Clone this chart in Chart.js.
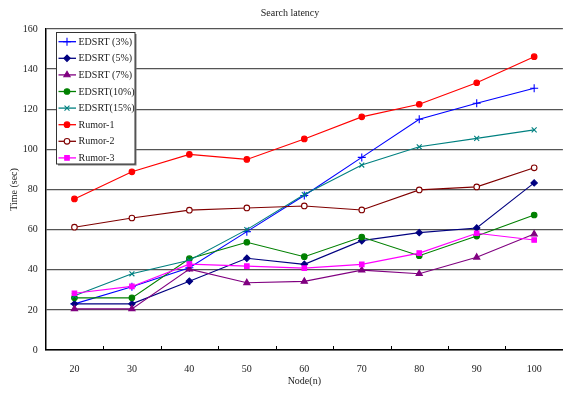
<!DOCTYPE html>
<html>
<head>
<meta charset="utf-8">
<title>Search latency</title>
<script src="https://cdn.jsdelivr.net/npm/chart.js@4/dist/chart.umd.min.js"></script>
<style>
  html, body { margin: 0; padding: 0; overflow: hidden; background: #fff; }
  canvas { display: block; }
</style>
</head>
<body>
<canvas id="c" width="568" height="394"></canvas>
<script>
// Number of nodes on the x axis
const nodes = [20, 30, 40, 50, 60, 70, 80, 90, 100];

// Search latency (sec) per series
const edsrt3  = [23, 31.5, 41, 59, 77, 96, 115, 123, 130.5];
const edsrt5  = [23, 23, 34.3, 45.7, 42.7, 54.5, 58.5, 60.8, 83.3];
const edsrt7  = [20.5, 20.5, 40.3, 33.5, 34.2, 39.8, 38, 46.2, 57.8];
const edsrt10 = [26, 26, 45.5, 53.7, 46.5, 56.3, 47, 56.8, 67.3];
const edsrt15 = [27, 38, 44.7, 60, 77.5, 92.2, 101.3, 105.5, 109.7];
const rumor1  = [75.3, 88.8, 97.5, 95, 105.2, 116.2, 122.5, 133.2, 146.2];
const rumor2  = [61.2, 65.8, 69.7, 70.8, 71.8, 69.8, 79.8, 81.3, 90.8];
const rumor3  = [28.3, 31.7, 42.8, 41.8, 40.8, 42.7, 48.3, 58.2, 54.8];

// Y axis ticks
const yTicks = [0, 20, 40, 60, 80, 100, 120, 140, 160];

const FONT = "'Liberation Serif', 'Times New Roman', serif";
const TEXT = '#222';

const series = [
  { label: 'EDSRT (3%)',  data: edsrt3,  color: '#0000FF', style: 'cross',    radius: 4 },
  { label: 'EDSRT (5%)',  data: edsrt5,  color: '#000080', style: 'rectRot',  radius: 3.2 },
  { label: 'EDSRT (7%)',  data: edsrt7,  color: '#800080', style: 'triangle', radius: 3.6 },
  { label: 'EDSRT(10%)',  data: edsrt10, color: '#008000', style: 'circle',   radius: 2.8 },
  { label: 'EDSRT(15%)',  data: edsrt15, color: '#008080', style: 'crossRot', radius: 3.5 },
  { label: 'Rumor-1',     data: rumor1,  color: '#FF0000', style: 'circle',   radius: 2.8 },
  { label: 'Rumor-2',     data: rumor2,  color: '#800000', style: 'circle',   radius: 2.8, hollow: true },
  { label: 'Rumor-3',     data: rumor3,  color: '#FF00FF', style: 'rect',     radius: 3.2 }
];

const datasets = series.map((s, i) => ({
  label: s.label,
  data: s.data,
  borderColor: s.color,
  backgroundColor: s.color,
  borderWidth: 1.1,
  pointStyle: s.style,
  pointRadius: s.radius,
  pointBorderColor: s.color,
  pointBackgroundColor: s.hollow ? '#fff' : s.color,
  pointBorderWidth: 1.1,
  fill: false,
  tension: 0,
  order: -i
}));

// Title, framed legend and small category tick marks
const decorations = {
  id: 'decorations',
  afterDraw(chart) {
    const ctx = chart.ctx;
    const xs = chart.scales.x;
    const area = chart.chartArea;

    ctx.save();
    // chart title
    ctx.fillStyle = TEXT;
    ctx.font = `10px ${FONT}`;
    ctx.textAlign = 'center';
    ctx.textBaseline = 'middle';
    ctx.fillText('Search latency', 290, 13);

    // tick marks between categories, pointing into the plot
    const step = xs.getPixelForValue(1) - xs.getPixelForValue(0);
    ctx.strokeStyle = '#000';
    ctx.lineWidth = 1;
    for (let i = 0; i < nodes.length - 1; i++) {
      const x = Math.round(xs.getPixelForValue(i) + step / 2) + 0.5;
      ctx.beginPath();
      ctx.moveTo(x, area.bottom);
      ctx.lineTo(x, area.bottom - 4);
      ctx.stroke();
    }

    // legend box
    const bx = 56.5, by = 32.5, bw = 78.5, bh = 131.5;
    ctx.fillStyle = '#777';
    ctx.fillRect(bx + 1.5, by + 1.5, bw, bh);
    ctx.fillStyle = '#fff';
    ctx.fillRect(bx, by, bw, bh);
    ctx.strokeStyle = '#333';
    ctx.lineWidth = 1;
    ctx.strokeRect(bx, by, bw, bh);

    series.forEach((s, i) => {
      const y = 41.7 + i * 16.6;
      ctx.strokeStyle = s.color;
      ctx.lineWidth = 1.3;
      ctx.beginPath();
      ctx.moveTo(58.5, y);
      ctx.lineTo(76, y);
      ctx.stroke();
      ctx.fillStyle = s.hollow ? '#fff' : s.color;
      ctx.strokeStyle = s.color;
      ctx.lineWidth = 1.1;
      Chart.helpers.drawPoint(ctx, { pointStyle: s.style, radius: s.radius, rotation: 0, borderWidth: 1.1 }, 67, y);
      ctx.fillStyle = TEXT;
      ctx.font = `10px ${FONT}`;
      ctx.textAlign = 'left';
      ctx.textBaseline = 'middle';
      ctx.fillText(s.label, 78.5, y + 0.5);
    });
    ctx.restore();
  }
};

new Chart(document.getElementById('c'), {
  type: 'line',
  data: { labels: nodes.map(String), datasets },
  options: {
    responsive: false,
    animation: false,
    layout: { padding: { top: 29, right: 2.5, left: 0, bottom: 0 } },
    plugins: {
      legend: { display: false },
      title: { display: false },
      tooltip: { enabled: false }
    },
    scales: {
      x: {
        type: 'category',
        offset: true,
        grid: { display: false, drawTicks: false },
        border: { display: true, color: '#000', width: 1.5 },
        ticks: { font: { family: FONT, size: 10 }, color: TEXT, padding: 13, maxRotation: 0, autoSkip: false },
        title: { display: true, text: 'Node(n)', color: TEXT, font: { family: FONT, size: 10, lineHeight: 1.2 }, padding: { top: 0, bottom: 7 } },
        afterFit(scale) { scale.height = 44; }
      },
      y: {
        min: 0,
        max: 160,
        afterBuildTicks(scale) { scale.ticks = yTicks.map(v => ({ value: v })); },
        ticks: { font: { family: FONT, size: 10 }, color: TEXT, padding: 8 },
        grid: { color: '#555', lineWidth: 1.3, drawTicks: false },
        border: { display: true, color: '#000', width: 1.5 },
        title: { display: true, text: 'Time (sec)', color: TEXT, font: { family: FONT, size: 10, lineHeight: 1.2 }, padding: { top: 8, bottom: 0 } },
        afterFit(scale) { scale.width = 45.7; }
      }
    }
  },
  plugins: [decorations]
});
</script>
</body>
</html>
